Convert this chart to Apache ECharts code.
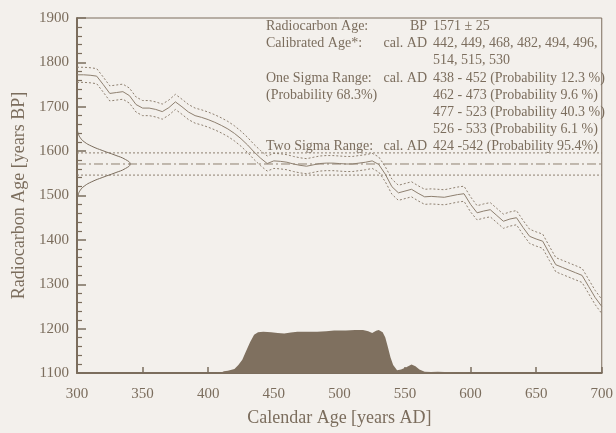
<!DOCTYPE html>
<html>
<head>
<meta charset="utf-8">
<script src="https://cdn.jsdelivr.net/npm/echarts@6/dist/echarts.min.js"></script>
<style>
html,body{margin:0;padding:0;background:#f3f0ec;}
#c{width:616px;height:433px;}
</style>
</head>
<body>
<div id="c"></div>
<script>
// Calibration curve (calendar year AD -> radiocarbon age BP)
const curveYears = [300,305,310,315,320,325,330,335,340,345,350,355,360,365,370,375,380,385,390,395,
  400,405,410,415,420,425,430,435,440,445,450,455,460,465,470,475,480,485,490,495,
  500,505,510,515,520,525,530,535,540,545,550,555,560,565,570,575,580,585,590,595,
  600,605,610,615,620,625,630,635,640,645,650,655,660,665,670,675,680,685,690,695,700];
const curveMid = [1772,1772,1771,1769,1750,1730,1732,1734,1725,1705,1697,1697,1694,1689,1698,1711,1700,1688,1680,1676,
  1671,1665,1658,1650,1640,1628,1614,1598,1584,1572,1578,1577,1575,1571,1568,1566,1569,1572,1573,1573,
  1572,1571,1571,1573,1575,1578,1570,1548,1520,1506,1510,1514,1505,1497,1498,1497,1496,1499,1502,1504,
  1480,1461,1465,1468,1455,1442,1447,1450,1428,1408,1402,1397,1370,1344,1338,1332,1326,1320,1295,1270,1250];
const curveUpper = [1789,1789,1788,1786,1767,1747,1749,1751,1742,1722,1714,1714,1711,1706,1715,1728,1717,1705,1697,1693,
  1688,1682,1675,1667,1657,1645,1631,1615,1601,1589,1595,1594,1592,1588,1585,1583,1586,1589,1590,1590,
  1589,1588,1588,1590,1592,1595,1587,1565,1537,1523,1527,1531,1522,1514,1515,1514,1513,1516,1519,1521,
  1497,1477,1481,1484,1471,1458,1463,1466,1444,1424,1418,1413,1386,1360,1354,1348,1342,1336,1311,1286,1266];
const curveLower = [1755,1755,1754,1752,1733,1713,1715,1717,1708,1688,1680,1680,1677,1672,1681,1694,1683,1671,1663,1659,
  1654,1648,1641,1633,1623,1611,1597,1581,1567,1555,1561,1560,1558,1554,1551,1549,1552,1555,1556,1556,
  1555,1554,1554,1556,1558,1561,1553,1531,1503,1489,1493,1497,1488,1480,1481,1480,1479,1482,1485,1487,
  1463,1445,1449,1452,1439,1426,1431,1434,1412,1392,1386,1381,1354,1328,1322,1316,1310,1304,1279,1254,1234];

// Radiocarbon measurement: 1571 +/- 25 BP
const bpLevels = [1546, 1571, 1596];
const gaussBP = [1496,1501,1511,1521,1531,1541,1551,1561,1571,1581,1591,1601,1611,1621,1631,1641,1646];
const gaussYear = [300.4,300.8,302.3,305.5,311.3,319.7,329,337,340.5,337,329,319.7,311.3,305.5,302.3,300.8,300.4];

// Calibrated probability distribution (drawn on BP scale above 1100)
const probYears = [300,405,410,412,415,420,423,426,429,432,435,438,442,448,453,458,463,468,475,483,490,496,505,512,518,522,525,528,530,533,535,537,539,541,544,547,551,555,558,561,565,570,575,580,585,590,595,598,600,700];
const probValues = [1100,1100,1101,1104,1105,1109,1118,1130,1150,1170,1186,1192,1193,1192,1190,1189,1191,1193,1193,1193,1194,1196,1196,1197,1197,1194,1190,1195,1197,1192,1180,1158,1135,1118,1106,1108,1113,1119,1115,1108,1103,1102,1103,1102,1102,1101,1102,1101,1100,1100];

const xTicks = [300,700,50];
const yTicks = [1100,1900,100];

const infoLabels = ['Radiocarbon Age:','Calibrated Age*:','','One Sigma Range:','(Probability 68.3%)','','','Two Sigma Range:'];
const infoUnits = ['BP','cal. AD','','cal. AD','','','','cal. AD'];
const infoValues = ['1571 \u00b1 25','442, 449, 468, 482, 494, 496,','514, 515, 530','438 - 452 (Probability 12.3 %)','462 - 473 (Probability 9.6 %)','477 - 523 (Probability 40.3 %)','526 - 533 (Probability 6.1 %)','424 -542 (Probability 95.4%)'];

const INK = '#7b6d5d';
const LINE = '#8e8070';
const FONT = '"Liberation Serif","DejaVu Serif",serif';

const chart = echarts.init(document.getElementById('c'), null, {renderer:'canvas'});

const zip = (a,b) => a.map((v,i)=>[v,b[i]]);

const graphics = [];
infoLabels.forEach((t,i)=>{
  const y = 28 + i*17.15;
  if (t) graphics.push({type:'text', left:266, top:y-8.5, style:{text:t, fill:INK, font:'14px '+FONT}});
  if (infoUnits[i]) graphics.push({type:'text', right:616-427, top:y-8.5, style:{text:infoUnits[i], fill:INK, font:'14px '+FONT}});
  graphics.push({type:'text', left:433, top:y-8.5, style:{text:infoValues[i], fill:INK, font:'14px '+FONT}});
});

const series = [
  {type:'line', data: zip(probYears, probValues), symbol:'none', lineStyle:{width:0},
   areaStyle:{color:'#7f705f', opacity:1, origin:'start'}, itemStyle:{color:'#7f705f'}, z:1, silent:true},
  {type:'line', data: zip(curveYears, curveUpper), symbol:'none', lineStyle:{color:LINE, width:1, type:[2,2]}, z:3},
  {type:'line', data: zip(curveYears, curveMid), symbol:'none', lineStyle:{color:LINE, width:1}, z:3},
  {type:'line', data: zip(curveYears, curveLower), symbol:'none', lineStyle:{color:LINE, width:1, type:[2,2]}, z:3},
  {type:'line', data: zip(gaussYear, gaussBP), symbol:'none', smooth:true, lineStyle:{color:'#7b6d5d', width:1}, z:3}
];
bpLevels.forEach((v,i)=>{
  series.push({type:'line', data:[[xTicks[0],v],[xTicks[1],v]], symbol:'none',
    lineStyle:{color:LINE, width:1, type: i===1 ? [9,3,2,3] : [2,2]}, z:2});
});

chart.setOption({
  backgroundColor:'#f3f0ec',
  animation:false,
  textStyle:{fontFamily:FONT},
  grid:{left:77, right:8, top:18, bottom:60, show:true, borderColor:INK, borderWidth:1, backgroundColor:'transparent'},
  xAxis:{type:'value', min:xTicks[0], max:xTicks[1], interval:xTicks[2],
    name:'Calendar Age [years AD]', nameLocation:'middle', nameGap:36,
    nameTextStyle:{color:INK, fontSize:18, fontFamily:FONT},
    axisLine:{lineStyle:{color:INK, width:2}},
    axisTick:{inside:true, length:6, lineStyle:{color:INK, width:1.5}},
    axisLabel:{color:INK, fontSize:15, fontFamily:FONT, margin:14, formatter:v=>String(v)},
    splitLine:{show:false}},
  yAxis:{type:'value', min:yTicks[0], max:yTicks[1], interval:yTicks[2],
    name:'Radiocarbon Age [years BP]', nameLocation:'middle', nameGap:43,
    nameTextStyle:{color:INK, fontSize:18, fontFamily:FONT},
    axisLine:{lineStyle:{color:INK, width:2}},
    axisTick:{inside:true, length:9, lineStyle:{color:INK, width:1.5}},
    minorTick:{show:true, splitNumber:5, length:5, lineStyle:{color:INK, width:1.2}},
    axisLabel:{color:INK, fontSize:15, fontFamily:FONT, margin:8, formatter:v=>String(v)},
    splitLine:{show:false}},
  graphic: graphics,
  series: series
});
</script>
</body>
</html>
